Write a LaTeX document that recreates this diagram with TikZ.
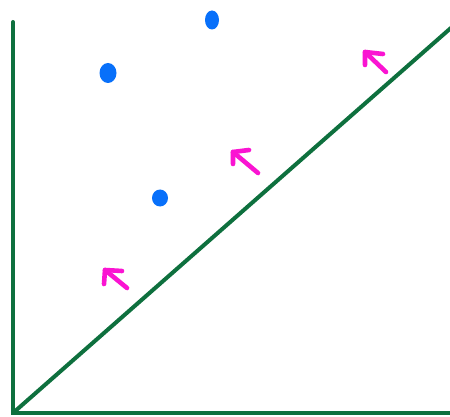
\documentclass[tikz,border=0pt]{standalone}
\definecolor{axisgreen}{RGB}{14,112,62}
\definecolor{dotblue}{RGB}{8,112,250}
\definecolor{arrmag}{RGB}{250,20,210}
\tikzset{
  axisline/.style={axisgreen, line width=4pt, line cap=round},
  dotfill/.style={fill=dotblue, draw=none},
  handarrow/.style={arrmag, line width=4.6pt, line cap=round, line join=round}
}
\begin{document}
\begin{tikzpicture}[x=1pt,y=-1pt]
\useasboundingbox (0,0) rectangle (450,417);
\coordinate (top) at (13,22);
\coordinate (origin) at (13,413);
\coordinate (right) at (452,413);
\coordinate (diagend) at (452,27);
\draw[axisline] (top) -- (origin) -- (right);
\draw[axisline] (origin) -- (diagend);
% dots
\fill[dotfill] (108,73) ellipse (8.5 and 10);
\fill[dotfill] (212,20) ellipse (7 and 9.5);
\fill[dotfill] (160,198) ellipse (8 and 8.5);
% arrows
\draw[handarrow] (127,288) -- (105,270);
\draw[handarrow] (122,271) -- (105,270) -- (104,284);
\draw[handarrow] (258,173) -- (233,152);
\draw[handarrow] (249,150) -- (233,152) -- (233,164);
\draw[handarrow] (386,72) -- (365,52);
\draw[handarrow] (383,54) -- (365,52) -- (365,65);
\end{tikzpicture}
\end{document}
